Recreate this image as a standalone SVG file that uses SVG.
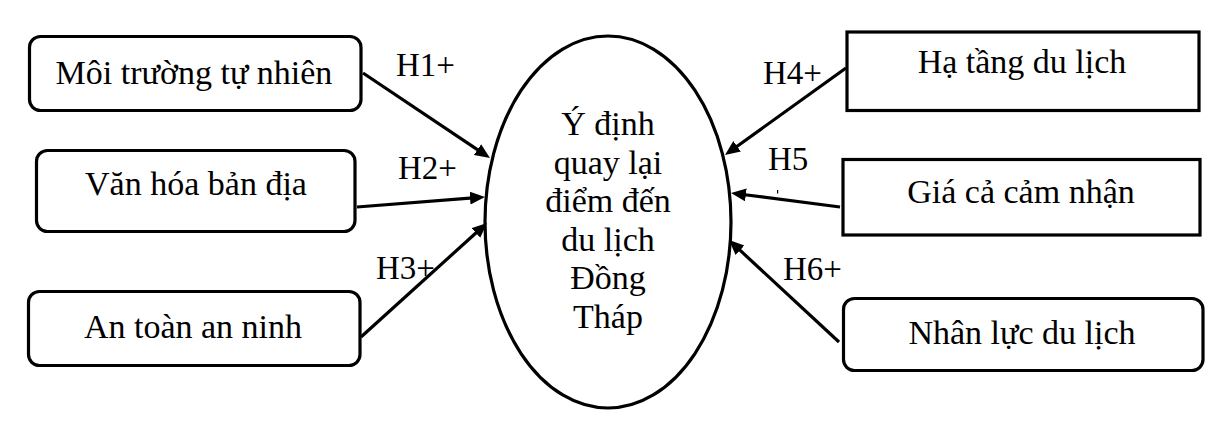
<svg xmlns="http://www.w3.org/2000/svg" width="1217" height="428" viewBox="0 0 1217 428">
<style>
text{font-family:"Liberation Serif","Times New Roman",serif;font-size:34px;fill:#000}
.h{font-size:33px}
.box{fill:#fff;stroke:#000;stroke-width:3.2}
.c{text-anchor:middle}
.conn line{stroke:#000;stroke-width:3.2}
</style>
<defs>
<marker id="ah" markerUnits="userSpaceOnUse" markerWidth="16" markerHeight="14" refX="3" refY="6.5" orient="auto">
<path d="M0,0 L15,6.5 L0,13 z" fill="#000"/>
</marker>
</defs>
<rect width="1217" height="428" fill="#fff"/>
<g id="n-center">
<ellipse class="box" cx="608" cy="222" rx="123" ry="186"/>
<text class="c" x="608" y="135">Ý định</text>
<text class="c" x="608" y="173.6">quay lại</text>
<text class="c" x="608" y="212.2">điểm đến</text>
<text class="c" x="608" y="250.8">du lịch</text>
<text class="c" x="608" y="289.4">Đồng</text>
<text class="c" x="608" y="328">Tháp</text>
</g>
<g id="n-moitruong">
<rect class="box" x="29.5" y="36.5" width="331.5" height="74" rx="11"/>
<text class="c" x="194" y="83.5">Môi trường tự nhiên</text>
</g>
<g id="n-vanhoa">
<rect class="box" x="36.5" y="150.5" width="318.5" height="81" rx="11"/>
<text class="c" x="196" y="195">Văn hóa bản địa</text>
</g>
<g id="n-antoan">
<rect class="box" x="28.5" y="291.5" width="331.5" height="74" rx="11"/>
<text class="c" x="193" y="338">An toàn an ninh</text>
</g>
<g id="n-hatang">
<rect class="box" x="847" y="32" width="352" height="78.5"/>
<text class="c" x="1022" y="72.5">Hạ tầng du lịch</text>
</g>
<g id="n-giaca">
<rect class="box" x="843" y="159.5" width="357" height="75.5"/>
<text class="c" x="1021" y="203">Giá cả cảm nhận</text>
</g>
<g id="n-nhanluc">
<rect class="box" x="843.5" y="298.5" width="359.5" height="72" rx="11"/>
<text class="c" x="1022" y="344">Nhân lực du lịch</text>
</g>
<g id="connectors" class="conn">
<line x1="363" y1="73" x2="480" y2="151.3" marker-end="url(#ah)"/>
<line x1="357" y1="207" x2="473" y2="197.9" marker-end="url(#ah)"/>
<line x1="361" y1="337" x2="478.1" y2="231" marker-end="url(#ah)"/>
<line x1="846" y1="68" x2="734.7" y2="148" marker-end="url(#ah)"/>
<line x1="840" y1="207" x2="742.9" y2="194.5" marker-end="url(#ah)"/>
<line x1="839" y1="342" x2="737.8" y2="248.2" marker-end="url(#ah)"/>
</g>
<g id="labels">
<text class="h" x="396" y="76">H1+</text>
<text class="h" x="398" y="179">H2+</text>
<text class="h" x="376" y="279">H3+</text>
<text class="h" x="763" y="84">H4+</text>
<text class="h" x="768" y="170">H5</text>
<text class="h" x="783" y="280">H6+</text>
<rect x="777" y="190" width="1.2" height="3.5" fill="#000"/>
</g>
</svg>
